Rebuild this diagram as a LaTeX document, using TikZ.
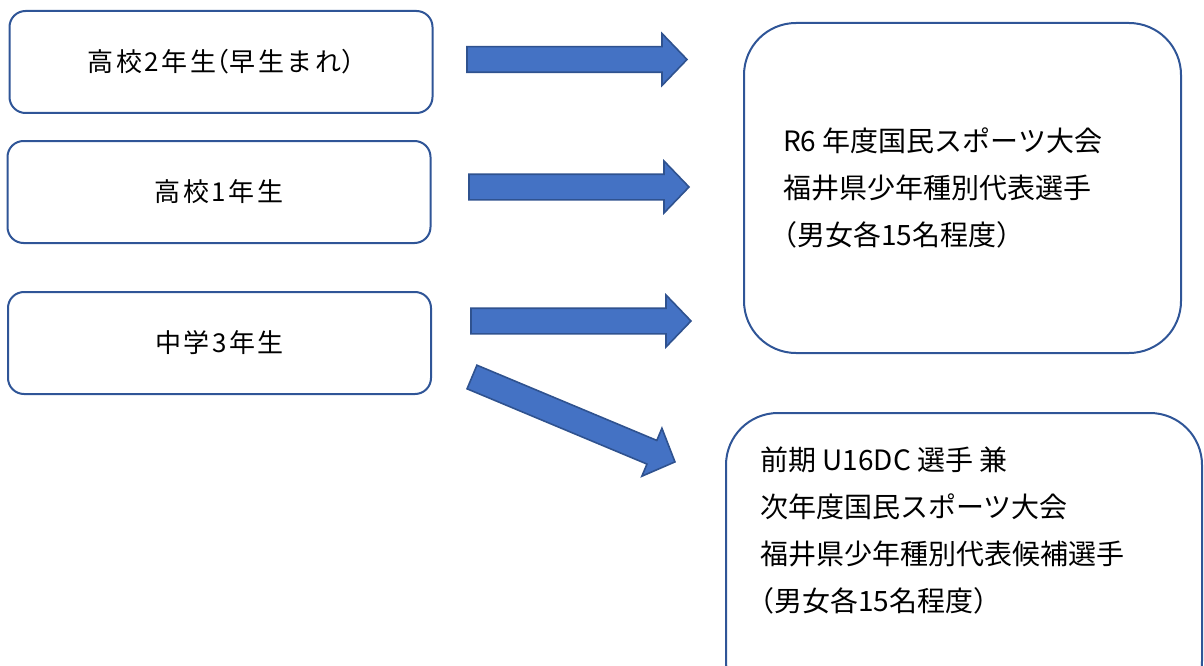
\documentclass[tikz,border=0pt]{standalone}
\usepackage{fontspec}
\setmainfont{Noto Sans CJK JP}
\newfontfamily\labelfont[LetterSpace=10]{Noto Sans CJK JP}
\newcommand\hp[1]{{\addfontfeature{RawFeature=+halt}#1}}
\definecolor{boxline}{HTML}{2F5597}
\definecolor{arrfill}{HTML}{4472C4}
\definecolor{arrline}{HTML}{2F528F}
\tikzset{
  labelbox/.style={draw=boxline, line width=2pt, rounded corners=16pt, minimum width=423pt, minimum height=102pt, inner sep=0pt, font=\labelfont\fontsize{26}{30}\selectfont},
  bigbox/.style={draw=boxline, line width=2pt, rounded corners=52pt, inner sep=0pt},
  bigtext/.style={align=left, anchor=west, inner sep=0pt, font=\fontsize{28}{47}\selectfont},
  blockarrow/.style={fill=arrfill, draw=arrline, line width=1.6pt, line join=miter}
}
\newcommand\blockarr[3]{%
  \begin{scope}[shift={(#1,#2)}, rotate=#3]
    \draw[blockarrow] (0,-12.8) -- (195,-12.8) -- (195,-26) -- (220,0) -- (195,26) -- (195,12.8) -- (0,12.8) -- cycle;
  \end{scope}}
\begin{document}
\begin{tikzpicture}[x=1pt, y=-1pt]
  \useasboundingbox (0,0) rectangle (1204,666);
  \clip (0,0) rectangle (1204,666);
  % left boxes
  \node[labelbox] (hs2) at (221,62) {高校2年生\hp{（}早生まれ\hp{）}};
  \node[labelbox] (hs1) at (219,192) {高校1年生};
  \node[labelbox] (jh3) at (219.5,343) {中学3年生};
  % right boxes
  \node[bigbox, minimum width=437pt, minimum height=330pt] (top) at (962.5,188) {};
  \node[bigtext] (toptext) at (783,188) {R6 年度国民スポーツ大会\\福井県少年種別代表選手\\\hp{（}男女各15名程度\hp{）}};
  \node[bigbox, minimum width=476pt, minimum height=300pt] (bot) at (964,563) {};
  \node[bigtext] (bottext) at (760,531) {前期 U16DC 選手 兼\\次年度国民スポーツ大会\\福井県少年種別代表候補選手\\\hp{（}男女各15名程度\hp{）}};
  % block arrows
  \blockarr{467}{59.5}{0}
  \blockarr{469}{187}{0}
  \blockarr{471}{321}{0}
  \blockarr{472}{377}{-22.7}
\end{tikzpicture}
\end{document}
